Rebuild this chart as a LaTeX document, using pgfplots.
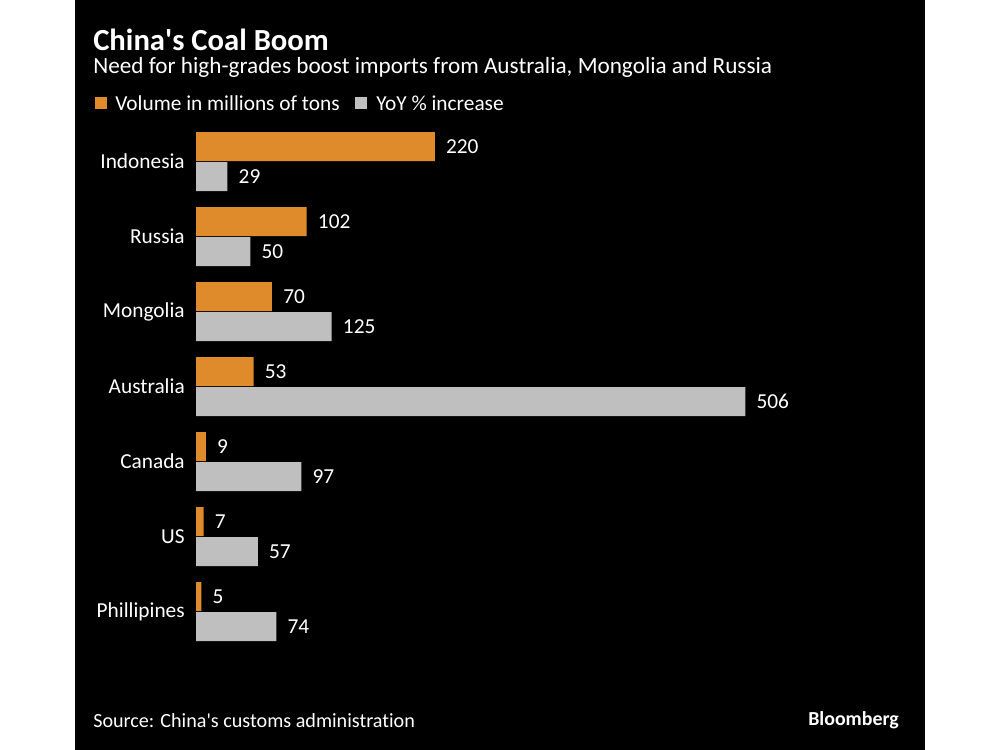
\documentclass[border=0pt]{standalone}
\usepackage{pgfplots}
\pgfplotsset{compat=1.18}
\usepackage{fontspec}
\setmainfont{Carlito}[Ligatures={TeXOff,CommonOff}]
\definecolor{bborange}{HTML}{E08B2B}
\definecolor{bbgrey}{HTML}{BFBFBF}
\begin{document}
\begin{tikzpicture}[x=0.75pt,y=-0.75pt]
\fill[white] (0,0) rectangle (1000,750);
\fill[black] (75,0) rectangle (925,750);
\node[anchor=west,inner sep=0,text=white,font=\fontsize{23}{26}\selectfont\bfseries] at (93,40) {China's Coal Boom};
\node[anchor=west,inner sep=0,text=white,font=\fontsize{17.4}{20}\selectfont] at (93,67) {Need for high-grades boost imports from Australia, Mongolia and Russia};
\fill[bborange] (95,97) rectangle (107,109);
\node[anchor=west,inner sep=0,text=white,font=\fontsize{16}{18}\selectfont] at (115,103) {Volume in millions of tons};
\fill[bbgrey] (355,97) rectangle (367,109);
\node[anchor=west,inner sep=0,text=white,font=\fontsize{16}{18}\selectfont] at (376,103) {YoY \% increase};
\node[anchor=west,inner sep=0,text=white,font=\fontsize{15.1}{18}\selectfont] at (93,721) {Source: China's customs administration};
\node[anchor=east,inner sep=0,text=white,font=\fontsize{14.9}{18}\selectfont\bfseries] at (899,720) {Bloomberg};
\begin{axis}[
  at={(147pt,-486.75pt)}, anchor=south west,
  scale only axis,
  width=488.5pt, height=393.75pt,
  xmin=0, xmax=600, ymin=-0.5, ymax=6.5,
  xbar, bar width=21.75pt,
  axis line style={draw=none},
  major tick length=0pt,
  xtick=\empty,
  ytick={0,1,2,3,4,5,6},
  yticklabels={Phillipines,US,Canada,Australia,Mongolia,Russia,Indonesia},
  yticklabel style={text=white,font=\fontsize{16}{18}\selectfont,inner sep=0pt,xshift=-8.25pt},
  /pgf/number format/assume math mode=true,
  nodes near coords,
  nodes near coords style={text=white,font=\fontsize{16}{18}\selectfont,anchor=west,inner sep=0pt,xshift=8.25pt},
  point meta=x,
  clip=false,
]
\addplot[draw=none,fill=bborange,bar shift=11.25pt] coordinates {(5,0) (7,1) (9,2) (53,3) (70,4) (102,5) (220,6)};
\addplot[draw=none,fill=bbgrey,bar shift=-11.25pt] coordinates {(74,0) (57,1) (97,2) (506,3) (125,4) (50,5) (29,6)};
\end{axis}
\end{tikzpicture}
\end{document}
